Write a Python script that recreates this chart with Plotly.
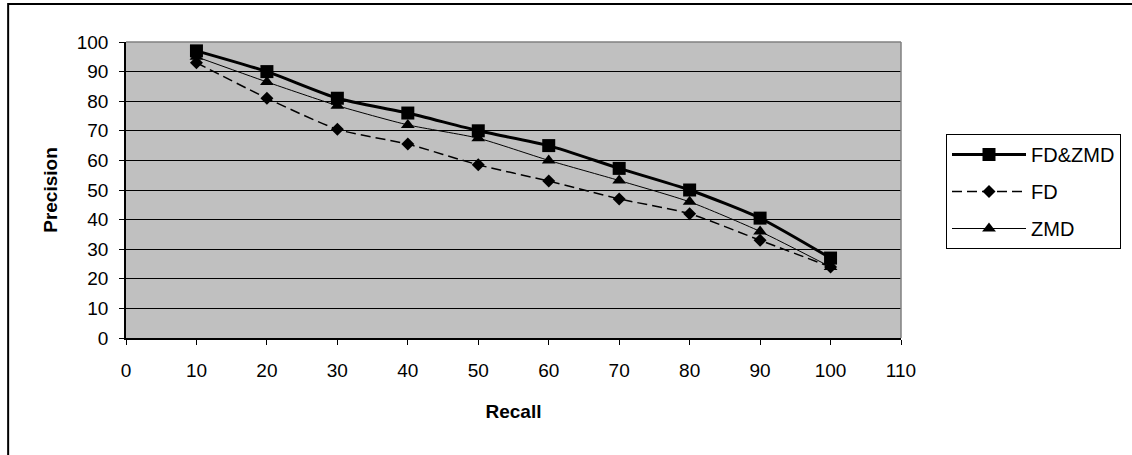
import plotly.graph_objects as go

recall = [10, 20, 30, 40, 50, 60, 70, 80, 90, 100]
fd_zmd = [97, 90, 81, 76, 70, 65, 57.3, 50, 40.5, 27]
fd = [93, 81, 70.5, 65.5, 58.5, 53, 47, 42, 33, 24]
zmd = [95, 86.5, 78.5, 72, 67.5, 60, 53.2, 46, 36, 24]

fig = go.Figure()
fig.add_trace(go.Scatter(x=recall, y=fd_zmd, name="FD&ZMD", legendgroup="a", mode="lines+markers",
                         line=dict(color="black", width=3, shape="spline", smoothing=0.6),
                         marker=dict(symbol="square", size=13, color="black")))
fig.add_trace(go.Scatter(x=recall, y=fd, name="FD", legendgroup="b", mode="lines+markers",
                         line=dict(color="black", width=1.5, dash="10px,5px", shape="spline", smoothing=0.6),
                         marker=dict(symbol="diamond", size=10, color="black")))
fig.add_trace(go.Scatter(x=recall, y=zmd, name="ZMD", legendgroup="c", mode="lines+markers",
                         line=dict(color="black", width=1, shape="spline", smoothing=0.6),
                         marker=dict(symbol="triangle-up", size=12, color="black")))

W, H = 1132, 455
L, R, T, B = 126, 230, 42, 117
PW, PH = W - L - R, H - T - B

fig.update_layout(
    width=W, height=H,
    margin=dict(l=L, r=R, t=T, b=B),
    paper_bgcolor="white", plot_bgcolor="#c0c0c0",
    font=dict(family="Liberation Sans, Arial", size=19, color="black"),
    showlegend=True,
    legend=dict(x=(946 - L) / PW, xanchor="left", y=(H - B - 134) / PH,
                yanchor="top", bordercolor="black", borderwidth=1, bgcolor="white",
                font=dict(size=20), tracegroupgap=8, itemwidth=74),
    shapes=[
        dict(type="rect", xref="paper", yref="paper",
             x0=(8 - L) / PW, x1=(W + 20 - L) / PW,
             y0=-(B + 20) / PH, y1=(H - B - 4) / PH,
             line=dict(color="black", width=2), layer="below"),
        dict(type="line", xref="paper", yref="paper", x0=0, x1=1, y0=1, y1=1,
             line=dict(color="#808080", width=1.5)),
        dict(type="line", xref="paper", yref="paper", x0=1, x1=1, y0=0, y1=1,
             line=dict(color="#808080", width=1.5)),
    ],
)
fig.update_xaxes(range=[0, 110], dtick=10, tick0=0, showgrid=False, zeroline=False,
                 showline=True, linecolor="black", linewidth=1.5,
                 ticks="outside", ticklen=5, tickcolor="black", ticklabelstandoff=9,
                 title=dict(text="<b>Recall</b>", font=dict(size=19), standoff=25))
fig.update_yaxes(range=[0, 100], dtick=10, tick0=0, showgrid=True, gridcolor="black", gridwidth=1,
                 zeroline=False, showline=True, linecolor="black", linewidth=1.5,
                 ticks="outside", ticklen=5, tickcolor="black", ticklabelstandoff=7,
                 title=dict(text="<b>Precision</b>", font=dict(size=19), standoff=14))

fig.write_html("out.html", config={"displayModeBar": False},
               post_script="document.body.style.margin='0';")
